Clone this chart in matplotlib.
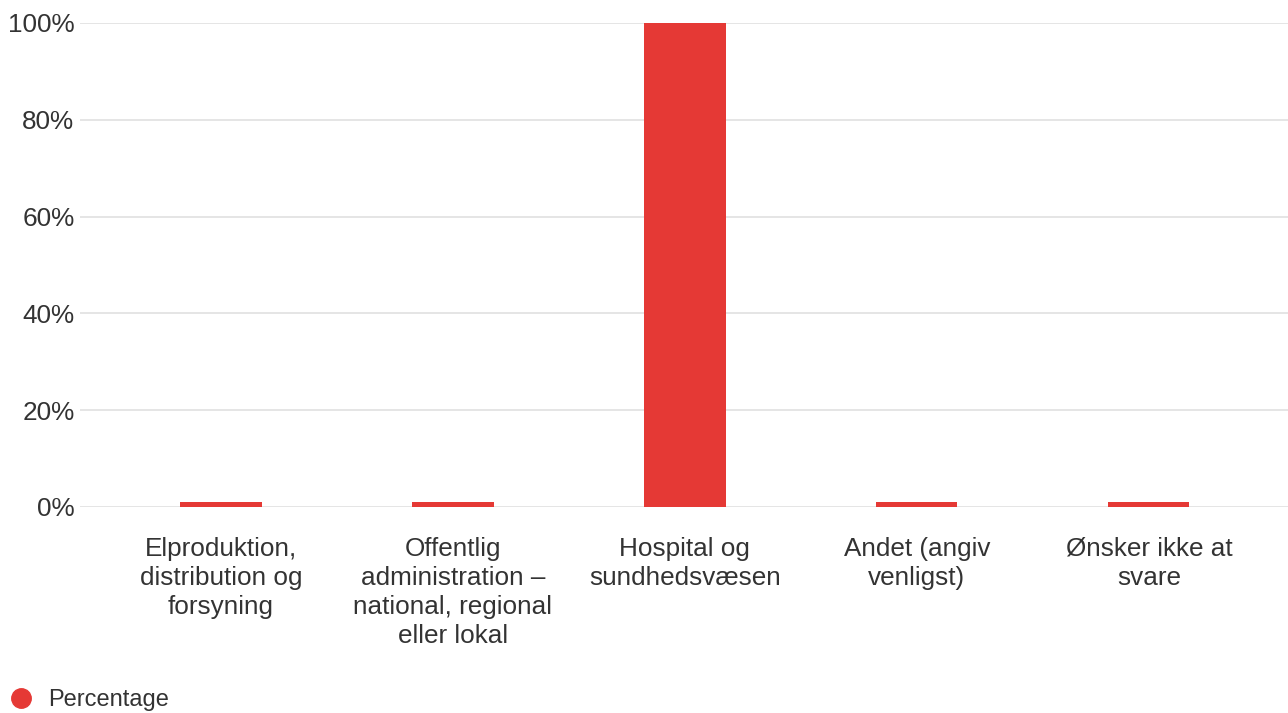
import matplotlib.pyplot as plt
from matplotlib.lines import Line2D

# data
categories = [
    "Elproduktion,\ndistribution og\nforsyning",
    "Offentlig\nadministration –\nnational, regional\neller lokal",
    "Hospital og\nsundhedsvæsen",
    "Andet (angiv\nvenligst)",
    "Ønsker ikke at\nsvare",
]
percentages = [1, 1, 100, 1, 1]
y_ticks = [0, 20, 40, 60, 80, 100]
series_name = "Percentage"

bar_color = "#E53935"
text_color = "#333333"
grid_color = "#E0E0E0"

plt.rcParams['font.family'] = ['Liberation Sans', 'DejaVu Sans']

W, H = 1288, 713
fig = plt.figure(figsize=(W / 100, H / 100), dpi=100)
ax = fig.add_axes([80 / W, (H - 507) / H, (W - 80) / W, (507 - 23) / H])

x = list(range(len(categories)))
ax.bar(x, percentages, width=0.35, color=bar_color, zorder=3)

ax.set_xlim(-0.608, 4.6)
ax.set_ylim(0, 100)
ax.set_yticks(y_ticks)
ax.set_yticklabels([f"{v}%" for v in y_ticks])
ax.set_xticks(x)
ax.set_xticklabels(categories, linespacing=1.26)
ax.yaxis.grid(True, color=grid_color, linewidth=1.2, zorder=0)
for s in ax.spines.values():
    s.set_visible(False)
ax.tick_params(axis='both', length=0, labelsize=18.8, colors=text_color)
ax.tick_params(axis='y', pad=4)
ax.tick_params(axis='x', pad=21.5)

handle = Line2D([], [], marker='o', linestyle='none', markersize=14,
                markerfacecolor=bar_color, markeredgecolor=bar_color)
fig.legend([handle], [series_name], loc='center left',
           bbox_to_anchor=(9 / W, (H - 700) / H), frameon=False,
           fontsize=17, labelcolor=text_color, handlelength=1.0,
           handletextpad=0.65, borderaxespad=0, borderpad=0)

fig.savefig("out.png", dpi=100)
